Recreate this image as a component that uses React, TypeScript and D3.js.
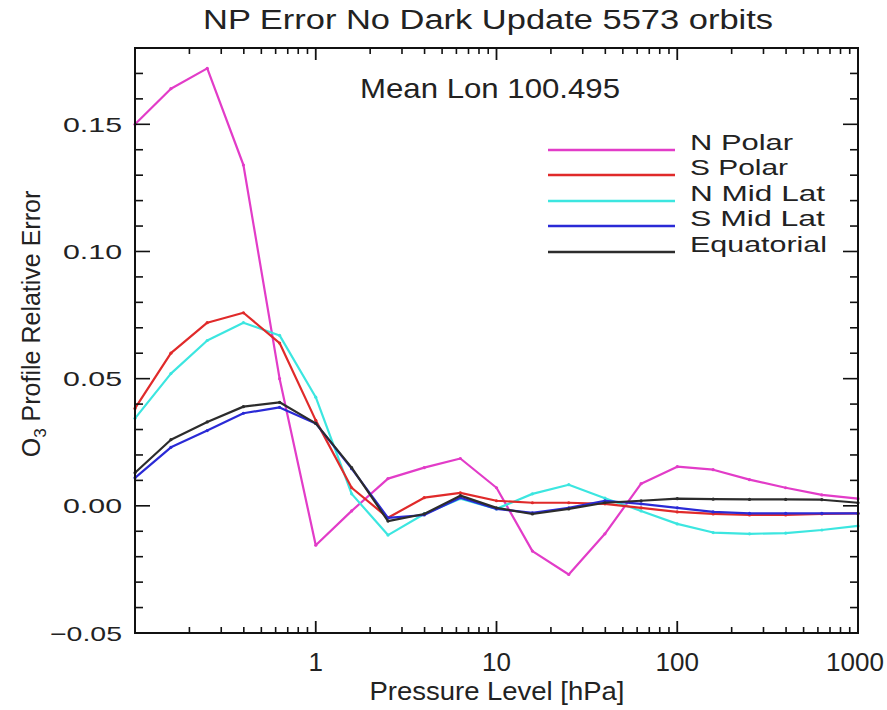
import React from "react";
import * as d3 from "d3";

const pressure = [0.1, 0.158, 0.251, 0.398, 0.631, 1, 1.58, 2.51, 3.98, 6.31, 10, 15.8, 25.1, 39.8, 63.1, 100, 158, 251, 398, 631, 1000];

const nPolar = [0.150, 0.164, 0.172, 0.134, 0.050, -0.0155, -0.002, 0.0107, 0.015, 0.0186, 0.0071, -0.0178, -0.027, -0.011, 0.0087, 0.0154, 0.0142, 0.0103, 0.0071, 0.0043, 0.0028];
const sPolar = [0.0383, 0.060, 0.072, 0.0759, 0.064, 0.0336, 0.0071, -0.0047, 0.0032, 0.0051, 0.002, 0.0012, 0.0012, 0.0008, -0.0008, -0.0024, -0.0032, -0.0036, -0.0036, -0.0032, -0.003];
const nMidLat = [0.0344, 0.052, 0.065, 0.072, 0.067, 0.0427, 0.0047, -0.0115, -0.0032, 0.0028, -0.0012, 0.0047, 0.0083, 0.003, -0.002, -0.0071, -0.0105, -0.011, -0.0107, -0.0095, -0.0079];
const sMidLat = [0.011, 0.023, 0.0296, 0.0364, 0.0387, 0.0324, 0.0146, -0.0047, -0.0036, 0.0032, -0.0012, -0.0028, -0.0008, 0.002, 0.0008, -0.0008, -0.0024, -0.003, -0.003, -0.003, -0.003];
const equatorial = [0.013, 0.026, 0.033, 0.039, 0.0407, 0.0324, 0.015, -0.006, -0.0032, 0.004, -0.0008, -0.0032, -0.0012, 0.0012, 0.002, 0.0028, 0.0026, 0.0025, 0.0025, 0.0024, 0.0012];

const seriesNames = ["N Polar", "S Polar", "N Mid Lat", "S Mid Lat", "Equatorial"];
const seriesColors = ["#e23cc8", "#e02a2a", "#3ce6e0", "#2a2ad6", "#2c2c2c"];
const seriesValues = [nPolar, sPolar, nMidLat, sMidLat, equatorial];
const drawOrder = [0, 2, 1, 3, 4];

const yTickValues = [-0.05, 0, 0.05, 0.1, 0.15];
const yTickLabels = ["\u22120.05", "0.00", "0.05", "0.10", "0.15"];
const xTickValues = [1, 10, 100, 1000];
const xTickLabels = ["1", "10", "100", "1000"];

const titleText = "NP Error No Dark Update 5573 orbits";
const subtitleText = "Mean Lon 100.495";
const xTitle = "Pressure Level [hPa]";

const L = 135, R = 858, T = 48, B = 633;
const FONT = "'Liberation Sans', Arial, sans-serif";

export default function App() {
  const x = d3.scaleLog().domain([0.1, 1000]).range([L, R]);
  const y = d3.scaleLinear().domain([-0.05, 0.18]).range([B, T]);

  const line = d3.line<[number, number]>().x(d => x(d[0])).y(d => y(d[1]));

  const xMinor: number[] = [];
  [0.1, 1, 10, 100].forEach(dec => {
    for (let k = 2; k <= 9; k++) xMinor.push(dec * k);
  });
  const xMajor = [1, 10, 100];
  const yMinor = d3.range(-0.05, 0.1801, 0.01).map(v => Math.round(v * 1000) / 1000);

  const legendYs = [150, 175, 201, 226, 252];
  const legendLens = [103, 98, 135, 135, 137];

  return (
    <div style={{ position: "absolute", left: 0, top: 0 }}>
      <svg width={887} height={710} style={{ display: "block", background: "#fff" }}>
        <rect x={0} y={0} width={887} height={710} fill="#fff" />
        {drawOrder.map(si => {
          const pts = pressure.map((p, i) => [p, seriesValues[si][i]] as [number, number]);
          return (
            <g key={si}>
              <path d={line(pts) || ""} fill="none" stroke={seriesColors[si]} strokeWidth={2.2} strokeLinejoin="round" />
              {pts.map((d, i) => (
                <circle key={i} cx={x(d[0])} cy={y(d[1])} r={1.6} fill={seriesColors[si]} />
              ))}
            </g>
          );
        })}
        <rect x={L} y={T} width={R - L} height={B - T} fill="none" stroke="#111" strokeWidth={2} />
        {xMinor.map((v, i) => (
          <g key={"xm" + i}>
            <line x1={x(v)} x2={x(v)} y1={B} y2={B - 6} stroke="#111" strokeWidth={1.6} />
            <line x1={x(v)} x2={x(v)} y1={T} y2={T + 6} stroke="#111" strokeWidth={1.6} />
          </g>
        ))}
        {xMajor.map((v, i) => (
          <g key={"xM" + i}>
            <line x1={x(v)} x2={x(v)} y1={B} y2={B - 12} stroke="#111" strokeWidth={1.8} />
            <line x1={x(v)} x2={x(v)} y1={T} y2={T + 12} stroke="#111" strokeWidth={1.8} />
          </g>
        ))}
        {yMinor.map((v, i) => {
          const major = Math.abs(Math.round(v * 100) % 5) === 0;
          const len = major ? 15 : 8;
          return (
            <g key={"y" + i}>
              <line x1={L} x2={L + len} y1={y(v)} y2={y(v)} stroke="#111" strokeWidth={1.6} />
              <line x1={R} x2={R - len} y1={y(v)} y2={y(v)} stroke="#111" strokeWidth={1.6} />
            </g>
          );
        })}
        {yTickValues.map((v, i) => (
          <text key={"yl" + i} x={122} y={y(v) + 7.5} textAnchor="end" fontFamily={FONT} fontSize={21}
            fill="#222" textLength={i === 0 ? 72 : 59} lengthAdjust="spacingAndGlyphs">{yTickLabels[i]}</text>
        ))}
        {xTickValues.map((v, i) => (
          <text key={"xl" + i} x={i === 3 ? 855 : x(v)} y={671} textAnchor="middle" fontFamily={FONT} fontSize={26} fill="#222">{xTickLabels[i]}</text>
        ))}
        <text x={488} y={29} textAnchor="middle" fontFamily={FONT} fontSize={27} fill="#222"
          textLength={570} lengthAdjust="spacingAndGlyphs">{titleText}</text>
        <text x={360} y={98} fontFamily={FONT} fontSize={28} fill="#222"
          textLength={260} lengthAdjust="spacingAndGlyphs">{subtitleText}</text>
        <text x={497} y={700} textAnchor="middle" fontFamily={FONT} fontSize={26} fill="#222"
          textLength={255} lengthAdjust="spacingAndGlyphs">{xTitle}</text>
        <text transform="translate(40,324) rotate(-90)" textAnchor="middle" fontFamily={FONT} fontSize={25} fill="#222">
          O<tspan fontSize={17} dy={6}>3</tspan><tspan dy={-6}> Profile Relative Error</tspan>
        </text>
        {seriesNames.map((name, i) => (
          <g key={"lg" + i}>
            <line x1={548} x2={675} y1={legendYs[i]} y2={legendYs[i]} stroke={seriesColors[i]} strokeWidth={2.4} />
            <text x={690} y={legendYs[i]} fontFamily={FONT} fontSize={22} fill="#222"
              textLength={legendLens[i]} lengthAdjust="spacingAndGlyphs">{name}</text>
          </g>
        ))}
      </svg>
    </div>
  );
}
